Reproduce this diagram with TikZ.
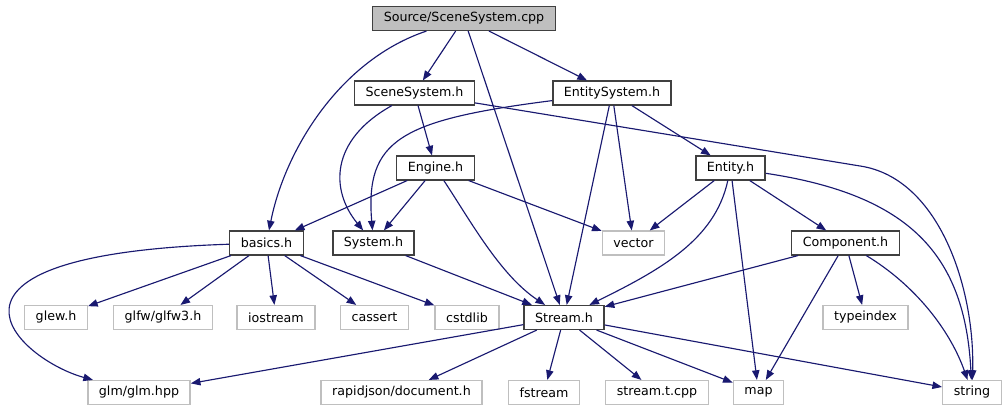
\documentclass[tikz,border=0pt]{standalone}
\usepackage{fontspec}
\setmainfont{DejaVu Sans}
\usepackage{tikz}
\usetikzlibrary{arrows.meta}
\definecolor{dgedge}{RGB}{25,25,112}
\definecolor{dgborder}{RGB}{64,64,64}
\definecolor{dgext}{RGB}{191,191,191}
\tikzset{
  filenode/.style={draw=dgborder, line width=0.8pt, fill=white,
    font=\fontsize{7.2}{8.6}\selectfont, minimum height=13.5pt,
    inner xsep=6.3pt, inner ysep=0pt},
  extnode/.style={filenode, draw=dgext},
  rootnode/.style={filenode, fill=dgext},
  dep/.style={draw=dgedge, line width=0.65pt,
    -{Triangle[length=5.5pt,width=4.2pt]}},
}

\begin{document}
\begin{tikzpicture}[x=0.02cm, y=-0.02cm]
  \useasboundingbox (0,0) rectangle (1007,411);

  % files of the project
  \node[rootnode] (cpp) at (464,18.5) {Source/SceneSystem.cpp};
  \node[filenode] (sceneh) at (414.5,93) {SceneSystem.h};
  \node[filenode] (entsysh) at (612,93) {EntitySystem.h};
  \node[filenode] (engineh) at (435.5,168) {Engine.h};
  \node[filenode] (entityh) at (730.5,168) {Entity.h};
  \node[filenode] (basicsh) at (266.5,243) {basics.h};
  \node[filenode] (systemh) at (373.5,243) {System.h};
  \node[filenode] (componenth) at (845.5,243) {Component.h};
  \node[filenode] (streamh) at (564,317.5) {Stream.h};

  % system and library headers
  \node[extnode] (vector) at (633.5,243) {vector};
  \node[extnode] (glew) at (56,317.5) {glew.h};
  \node[extnode] (glfw) at (163,317.5) {glfw/glfw3.h};
  \node[extnode] (iostream) at (276,317.5) {iostream};
  \node[extnode] (cassert) at (374.5,317.5) {cassert};
  \node[extnode] (cstdlib) at (467,317.5) {cstdlib};
  \node[extnode] (typeindex) at (865.5,317.5) {typeindex};
  \node[extnode] (glm) at (139,392.5) {glm/glm.hpp};
  \node[extnode] (rapidjson) at (401.5,392.5) {rapidjson/document.h};
  \node[extnode] (fstream) at (544,392.5) {fstream};
  \node[extnode] (streamt) at (657,392.5) {stream.t.cpp};
  \node[extnode] (map) at (758.5,392.5) {map};
  \node[extnode] (string) at (972,392.5) {string};

  % straight includes
  \foreach \src/\dst in {cpp/sceneh, cpp/streamh, cpp/entsysh,
      sceneh/engineh, entsysh/streamh, entsysh/vector, entsysh/entityh,
      engineh/basicsh, engineh/systemh, engineh/vector,
      entityh/vector, entityh/map, entityh/componenth,
      basicsh/glew, basicsh/glfw, basicsh/iostream, basicsh/cassert,
      basicsh/cstdlib, systemh/streamh,
      componenth/streamh, componenth/map, componenth/typeindex,
      streamh/glm, streamh/rapidjson, streamh/fstream, streamh/streamt,
      streamh/map, streamh/string} {
    \draw[dep] (\src) -- (\dst);
  }

  % bent includes
  \draw[dep] (cpp) .. controls (340,60) and (285,150) .. (basicsh);
  \draw[dep] (sceneh) .. controls (330,140) and (330,190) .. (systemh);
  \draw[dep] (entsysh) .. controls (400,120) and (365,140) .. (systemh);
  \draw[dep] (sceneh) -- (860,166) .. controls (940,178) and (975,290) .. (string);
  \draw[dep] (entityh) .. controls (910,195) and (965,255) .. (string);
  \draw[dep] (componenth) .. controls (915,285) and (950,330) .. (string);
  \draw[dep] (entityh) .. controls (715,240) and (660,270) .. (streamh);
  \draw[dep] (engineh) .. controls (470,220) and (500,275) .. (streamh);
  \draw[dep] (basicsh) .. controls (-100,255) and (20,360) .. (glm);
\end{tikzpicture}
\end{document}
